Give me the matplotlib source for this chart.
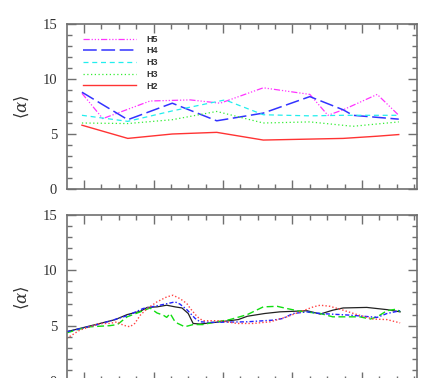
import matplotlib
matplotlib.use("Agg")
import matplotlib.pyplot as plt
from matplotlib.ticker import MultipleLocator, NullFormatter

# ---------------- data (top panel) ----------------
h5_x = [0.97, 1.27, 1.95, 2.53, 2.96, 3.58, 4.25, 4.51, 4.73, 5.22, 5.53]
h5_y = [8.7, 6.4, 8.0, 8.1, 7.8, 9.2, 8.6, 6.7, 7.2, 8.6, 6.7]

h4_x = [0.97, 1.63, 2.27, 2.91, 3.58, 4.25, 4.73, 4.87, 5.53]
h4_y = [8.8, 6.3, 7.8, 6.2, 6.9, 8.4, 7.2, 6.7, 6.35]

h3a_x = [0.97, 1.63, 2.27, 3.03, 3.58, 4.25, 4.73, 5.53]
h3a_y = [6.7, 6.15, 7.1, 8.1, 6.75, 6.65, 6.7, 6.7]

h3b_x = [0.97, 1.63, 2.27, 2.91, 3.58, 4.25, 4.87, 5.53]
h3b_y = [6.0, 5.95, 6.3, 7.05, 6.0, 6.1, 5.7, 6.1]

h2_x = [0.97, 1.63, 2.27, 2.91, 3.58, 4.73, 5.22, 5.53]
h2_y = [5.8, 4.6, 5.0, 5.15, 4.45, 4.6, 4.8, 4.95]

top_labels = ["H5", "H4", "H3", "H3", "H2"]

# ---------------- data (bottom panel) ----------------
blk_x = [0.75, 0.94, 1.23, 1.45, 1.62, 1.81, 1.91, 2.05, 2.19, 2.31, 2.41, 2.50,
         2.57, 2.67, 2.96, 3.22, 3.35, 3.60, 3.82, 4.21, 4.40, 4.58, 4.73, 5.07,
         5.36, 5.55]
blk_y = [4.45, 4.75, 5.2, 5.55, 6.0, 6.3, 6.65, 6.7, 6.85, 6.7, 6.6, 6.1,
         5.2, 5.15, 5.35, 5.55, 5.85, 6.1, 6.25, 6.35, 6.05, 6.4, 6.6, 6.65,
         6.45, 6.25]

grn_x = [0.75, 0.94, 1.09, 1.37, 1.48, 1.62, 1.81, 1.95, 2.05, 2.14, 2.19, 2.24,
         2.31, 2.35, 2.45, 2.57, 2.71, 2.86, 3.10, 3.35, 3.58, 3.78, 3.92, 4.11,
         4.40, 4.58, 4.97, 5.12, 5.22, 5.36, 5.50, 5.55]
grn_y = [4.35, 4.7, 4.9, 5.0, 5.1, 5.8, 6.25, 6.6, 6.15, 5.95, 5.75, 6.1,
         5.35, 5.2, 4.9, 5.1, 5.1, 5.3, 5.55, 6.0, 6.7, 6.75, 6.55, 6.3,
         6.1, 5.8, 5.8, 5.6, 5.8, 6.35, 6.5, 6.25]

blu_x = [0.75, 1.23, 1.62, 1.85, 2.09, 2.24, 2.31, 2.38, 2.48, 2.60, 2.67, 2.86,
         3.35, 3.72, 3.86, 4.01, 4.21, 4.40, 4.83, 5.22, 5.36, 5.55]
blu_y = [4.45, 5.15, 5.9, 6.55, 6.85, 7.05, 7.15, 6.95, 6.45, 5.65, 5.35, 5.3,
         5.35, 5.5, 5.65, 6.1, 6.25, 6.1, 5.95, 5.75, 6.1, 6.35]

red_x = [0.75, 0.94, 1.23, 1.37, 1.48, 1.56, 1.66, 1.73, 1.81, 1.91, 2.05, 2.19,
         2.28, 2.38, 2.48, 2.53, 2.63, 2.71, 2.96, 3.20, 3.43, 3.68, 3.92, 4.11,
         4.30, 4.40, 4.54, 4.73, 4.93, 5.16, 5.36, 5.55]
red_y = [3.85, 4.6, 5.2, 5.2, 5.35, 5.05, 4.9, 5.2, 5.95, 6.55, 7.15, 7.6,
         7.75, 7.45, 7.0, 6.55, 5.8, 5.45, 5.45, 5.2, 5.2, 5.35, 5.8, 6.25,
         6.7, 6.85, 6.75, 6.4, 6.0, 5.6, 5.55, 5.25]

ylabel = r"$\langle\alpha\rangle$"

plt.rcParams["mathtext.fontset"] = "dejavuserif"

fig = plt.figure(figsize=(4.39, 3.78), dpi=100)
ax1 = fig.add_axes([0.152, 0.5, 0.797, 0.4365])
ax2 = fig.add_axes([0.152, -0.0079, 0.797, 0.439])

spine_col = "#707070"


def style(ax):
    ax.set_xlim(0.751, 5.787)
    ax.set_ylim(0, 15)
    ax.xaxis.set_major_locator(MultipleLocator(1))
    ax.xaxis.set_minor_locator(MultipleLocator(0.25))
    ax.yaxis.set_major_locator(MultipleLocator(5))
    ax.yaxis.set_minor_locator(MultipleLocator(1))
    ax.xaxis.set_major_formatter(NullFormatter())
    ax.tick_params(which="both", direction="in", top=True, right=True,
                   color=spine_col, width=1.0)
    ax.tick_params(which="major", length=6.5)
    ax.tick_params(which="minor", length=3.5)
    ax.tick_params(axis="y", which="major", pad=7, labelsize=10.5)
    for lab in ax.get_yticklabels():
        lab.set_family("Liberation Serif")
        lab.set_color("#333333")
    for s in ax.spines.values():
        s.set_color(spine_col)
        s.set_linewidth(1.2)
    ax.set_ylabel(ylabel, fontsize=12, labelpad=8, color="#333333")


# top panel
ax1.plot(h5_x, h5_y, color="#ff33ff", lw=0.9, dashes=[5, 1.5, 1, 1.5, 1, 1.5, 1, 1.5],
         label=top_labels[0])
ax1.plot(h4_x, h4_y, color="#3333ff", lw=1.1, dashes=[9, 3], label=top_labels[1])
ax1.plot(h3a_x, h3a_y, color="#22eeee", lw=0.9, dashes=[4, 3], label=top_labels[2])
ax1.plot(h3b_x, h3b_y, color="#33ee33", lw=0.9, dashes=[1, 2], label=top_labels[3])
ax1.plot(h2_x, h2_y, color="#ff3333", lw=1.0, label=top_labels[4])
style(ax1)
leg = ax1.legend(loc="upper left", bbox_to_anchor=(0.047, 0.935), frameon=False,
                 prop={"family": "Liberation Sans", "weight": "bold", "size": 6.5},
                 handlelength=5.9, handletextpad=1.1, labelspacing=0.3,
                 borderpad=0, borderaxespad=0)
for t in leg.get_texts():
    t.set_color("#333333")

# bottom panel
ax2.plot(blk_x, blk_y, color="#222222", lw=0.9)
ax2.plot(grn_x, grn_y, color="#11dd11", lw=1.0, dashes=[5, 2.5])
ax2.plot(blu_x, blu_y, color="#2222ff", lw=1.0, dashes=[3, 1.5, 1, 1.5])
ax2.plot(red_x, red_y, color="#ff4444", lw=1.0, dashes=[1, 1.5])
style(ax2)

fig.savefig("out.png", dpi=100)
